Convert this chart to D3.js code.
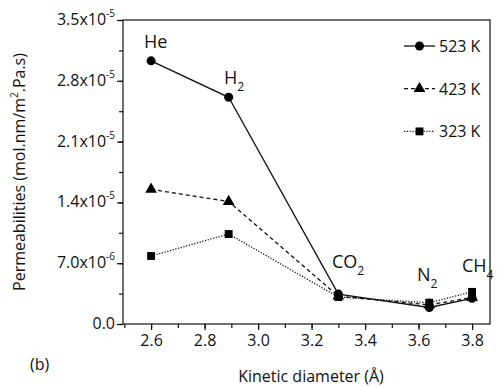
<!DOCTYPE html>
<html>
<head>
<meta charset="utf-8">
<script src="https://cdn.jsdelivr.net/npm/d3@7"></script>
<style>
  body { margin: 0; background: #fff; }
  svg text { font-family: "Open Sans", "DejaVu Sans", sans-serif; fill: #111; }
</style>
</head>
<body>
<svg id="chart" width="501" height="387"></svg>
<script>
// kinetic diameters (Å) of the gases
var gases = ["He", "H2", "CO2", "N2", "CH4"];
var diameters = [2.6, 2.89, 3.3, 3.64, 3.8];

// permeabilities, mol.nm/m2.Pa.s
var perm523 = [3.03e-5, 2.61e-5, 3.45e-6, 1.9e-6, 2.96e-6];
var perm423 = [1.55e-5, 1.41e-5, 3.2e-6, 2.2e-6, 3.05e-6];
var perm323 = [7.83e-6, 1.036e-5, 3.1e-6, 2.45e-6, 3.7e-6];

var seriesNames = ["523 K", "423 K", "323 K"];
var yTicks = [0, 7e-6, 1.4e-5, 2.1e-5, 2.8e-5, 3.5e-5];
var xTicks = [2.6, 2.8, 3.0, 3.2, 3.4, 3.6, 3.8];

(function() {
var pLeft = 123, pRight = 490, pTop = 20, pBottom = 324;
var svg = d3.select("#chart");

var x = d3.scaleLinear().domain([2.495, 3.867]).range([pLeft, pRight]);
var y = d3.scaleLinear().domain([0, 3.5e-5]).range([pBottom, pTop]);

var series = [
    {name: seriesNames[0], values: perm523, dash: null, symbol: d3.symbolCircle, size: 64},
    {name: seriesNames[1], values: perm423, dash: "4,3", symbol: d3.symbolTriangle, size: 60},
    {name: seriesNames[2], values: perm323, dash: "1.2,1.6", symbol: d3.symbolSquare, size: 62}
];

// frame
svg.append("rect")
    .attr("x", pLeft).attr("y", pTop)
    .attr("width", pRight - pLeft).attr("height", pBottom - pTop)
    .attr("fill", "none").attr("stroke", "#111").attr("stroke-width", 1.2);

// minor ticks
var minorX = d3.range(2.5, 3.86, 0.1).map(function(d) { return +d.toFixed(2); });
svg.append("g").attr("transform", "translate(0," + pBottom + ")")
    .call(d3.axisBottom(x).tickValues(minorX).tickSize(4).tickFormat(""))
    .call(function(g) { g.select(".domain").remove(); g.selectAll("line").attr("stroke", "#111").attr("stroke-width", 1.2); });

var minorY = d3.range(0, 3.6e-5, 3.5e-6);
svg.append("g").attr("transform", "translate(" + pLeft + ",0)")
    .call(d3.axisLeft(y).tickValues(minorY).tickSize(4).tickFormat(""))
    .call(function(g) { g.select(".domain").remove(); g.selectAll("line").attr("stroke", "#111").attr("stroke-width", 1.2); });

// major x axis
var xAxis = svg.append("g").attr("transform", "translate(0," + pBottom + ")")
    .call(d3.axisBottom(x).tickValues(xTicks).tickSize(6).tickPadding(5).tickFormat(d3.format(".1f")));
xAxis.select(".domain").remove();
xAxis.selectAll("line").attr("stroke", "#111").attr("stroke-width", 1.2);
xAxis.selectAll("text").style("font-size", "16px").attr("fill", "#111");

// major y axis, tick labels like 3.5x10^-5
var yAxis = svg.append("g").attr("transform", "translate(" + pLeft + ",0)")
    .call(d3.axisLeft(y).tickValues(yTicks).tickSize(6).tickFormat(""));
yAxis.select(".domain").remove();
yAxis.selectAll("line").attr("stroke", "#111").attr("stroke-width", 1.2);

yTicks.forEach(function(v) {
    var t = svg.append("text")
        .attr("x", pLeft - 8).attr("y", y(v) + 5)
        .attr("text-anchor", "end").style("font-size", "16px");
    if (v === 0) { t.text("0.0"); return; }
    var exp = Math.floor(Math.log10(v));
    var mant = (v / Math.pow(10, exp)).toFixed(1);
    t.append("tspan").text(mant + "x10");
    t.append("tspan").attr("dy", -8).style("font-size", "10px").text(exp);
});

// lines and markers
var line = d3.line()
    .x(function(d, i) { return x(diameters[i]); })
    .y(function(d) { return y(d); });

series.forEach(function(s) {
    svg.append("path")
        .datum(s.values)
        .attr("d", line)
        .attr("fill", "none").attr("stroke", "#111").attr("stroke-width", 1.3)
        .attr("stroke-dasharray", s.dash);
});
series.slice().reverse().forEach(function(s) {
    svg.selectAll(null)
        .data(s.values)
        .enter().append("path")
        .attr("transform", function(d, i) { return "translate(" + x(diameters[i]) + "," + y(d) + ")"; })
        .attr("d", d3.symbol().type(s.symbol).size(s.size))
        .attr("fill", "#000");
});

// gas labels
var gasLabelPos = [[144, 48], [224, 84], [332, 268], [417, 281], [462, 272]];
gases.forEach(function(g, i) {
    var m = g.match(/^([A-Za-z]+?)(\d*)$/);
    var t = svg.append("text")
        .attr("x", gasLabelPos[i][0]).attr("y", gasLabelPos[i][1])
        .style("font-size", "18px");
    t.append("tspan").text(m[1]);
    if (m[2]) t.append("tspan").attr("dy", 7).style("font-size", "12px").text(m[2]);
});

// legend
series.forEach(function(s, i) {
    var ly = 46 + i * 42.7;
    svg.append("line")
        .attr("x1", 404).attr("x2", 435).attr("y1", ly).attr("y2", ly)
        .attr("stroke", "#111").attr("stroke-width", 1.3)
        .attr("stroke-dasharray", s.dash);
    svg.append("path")
        .attr("transform", "translate(419.5," + ly + ")")
        .attr("d", d3.symbol().type(s.symbol).size(s.size))
        .attr("fill", "#000");
    svg.append("text")
        .attr("x", 439).attr("y", ly + 6)
        .style("font-size", "16px")
        .text(s.name);
});

// axis titles
var yt = svg.append("text")
    .attr("transform", "translate(25," + ((pTop + pBottom) / 2) + ") rotate(-90)")
    .attr("text-anchor", "middle").style("font-size", "16px");
yt.append("tspan").text("Permeabilities (mol.nm/m");
yt.append("tspan").attr("dy", -7).style("font-size", "10px").text("2");
yt.append("tspan").attr("dy", 7).text(".Pa.s)");

svg.append("text")
    .attr("x", 311).attr("y", 382)
    .attr("text-anchor", "middle").style("font-size", "16px")
    .text("Kinetic diameter (Å)");

svg.append("text")
    .attr("x", 30).attr("y", 370)
    .style("font-size", "16px")
    .text("(b)");
})();
</script>
</body>
</html>
